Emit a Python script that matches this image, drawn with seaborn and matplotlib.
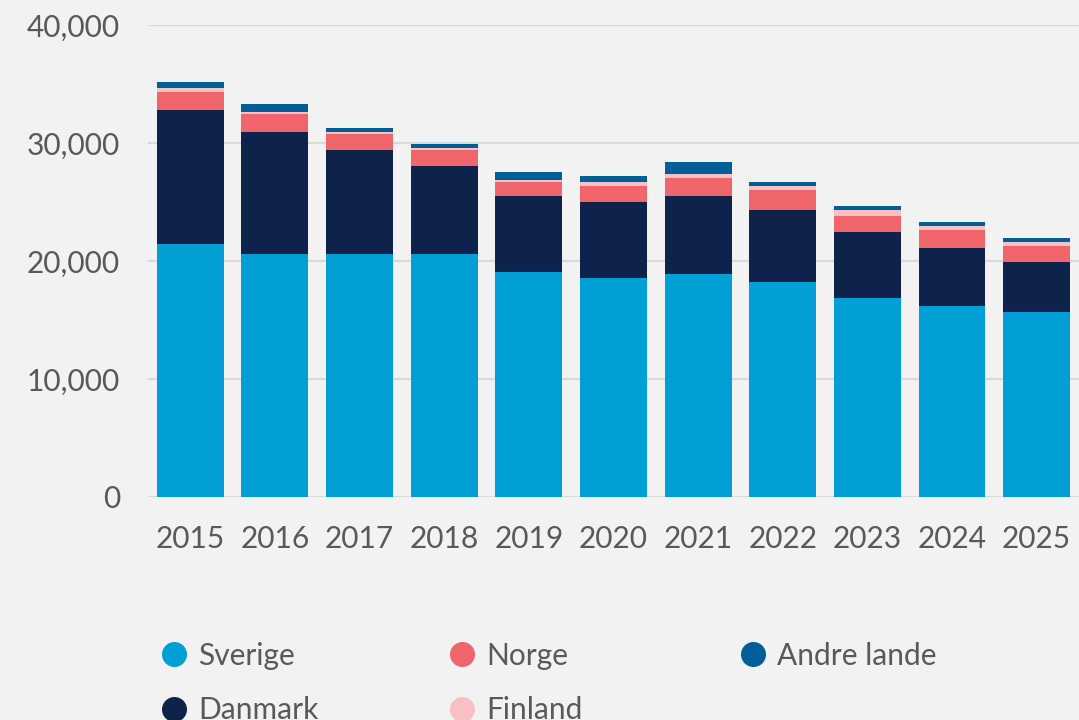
import matplotlib.pyplot as plt
import numpy as np
import pandas as pd
import seaborn as sns
from matplotlib.lines import Line2D

# ===== DATA =====
years = ["2015", "2016", "2017", "2018", "2019", "2020", "2021", "2022", "2023", "2024", "2025"]
sverige = [21440, 20590, 20590, 20590, 19070, 18560, 18900, 18220, 16870, 16190, 15680]
danmark = [11360, 10340, 8820, 7460, 6440, 6440, 6610, 6100, 5590, 4910, 4240]
norge = [1520, 1530, 1350, 1360, 1190, 1360, 1530, 1700, 1350, 1530, 1350]
finland = [340, 170, 170, 170, 170, 340, 330, 340, 510, 340, 340]
andre_lande = [510, 680, 340, 340, 670, 500, 1020, 340, 340, 340, 340]

series = ["Sverige", "Danmark", "Norge", "Finland", "Andre lande"]
colors = ["#009FD6", "#0F224B", "#F06569", "#F9C0C3", "#005F96"]

# ===== PLOT =====
sns.set_theme(style="white")
plt.rcParams["font.family"] = ["Lato", "DejaVu Sans"]
text_color = "#595959"
bg = "#F2F2F2"
fs = 21.5

df = pd.DataFrame(
    {"year": years, "Sverige": sverige, "Danmark": danmark, "Norge": norge,
     "Finland": finland, "Andre lande": andre_lande}
)
cum = df[series].cumsum(axis=1)

fig = plt.figure(figsize=(10.79, 7.2), dpi=100, facecolor=bg)
ax = fig.add_axes([0.137, 0.31, 0.863, 0.655])
ax.set_facecolor(bg)

# draw cumulative totals from the top layer down so the lower layers overlay
for name, color in reversed(list(zip(series, colors))):
    sns.barplot(x=df["year"], y=cum[name], color=color, width=0.79,
                saturation=1, linewidth=0, edgecolor="none", ax=ax, zorder=3)

ax.set_ylim(0, 40000)
ax.set_xlim(-0.5, 10.5)
ax.set_yticks(np.arange(0, 40001, 10000))
ax.yaxis.set_major_formatter(plt.FuncFormatter(lambda v, p: f"{int(v):,}"))
ax.grid(axis="y", color="#D9D9D9", linewidth=1.5, zorder=0)
ax.set_axisbelow(True)
for s in ax.spines.values():
    s.set_visible(False)
ax.tick_params(axis="both", length=0, labelsize=fs, labelcolor=text_color)
ax.tick_params(axis="y", pad=20)
ax.tick_params(axis="x", pad=20)
ax.set_xlabel("")
ax.set_ylabel("")

# legend: three fixed-width columns
columns = [[0, 1], [2, 3], [4]]
col_x = [162, 450, 741]
for idx, x0 in zip(columns, col_x):
    handles = [
        Line2D([0], [0], marker="o", linestyle="", markersize=17,
               markerfacecolor=colors[i], markeredgecolor=colors[i])
        for i in idx
    ]
    fig.legend(
        handles, [series[i] for i in idx], ncol=1, loc="upper left",
        bbox_to_anchor=(x0 / 1079, 0.109), bbox_transform=fig.transFigure,
        frameon=False, fontsize=fs, labelcolor=text_color,
        handletextpad=0.4, labelspacing=0.9, borderpad=0, borderaxespad=0,
        handlelength=0.8,
    )

fig.savefig("out.png", dpi=100, facecolor=bg)
